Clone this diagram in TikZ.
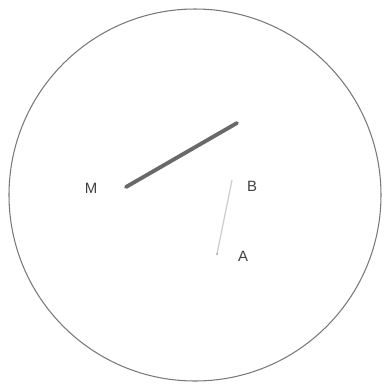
\documentclass[tikz,border=0pt]{standalone}
\usepackage{fontspec}
\setmainfont{Liberation Sans}
\usepackage{tikz}
\usetikzlibrary{positioning}
\definecolor{rimgray}{RGB}{120,120,120}
\definecolor{rodgray}{RGB}{105,105,105}
\definecolor{faintgray}{RGB}{205,205,205}

\begin{document}
\begin{tikzpicture}[
    x=0.02cm,y=-0.02cm,
    lbl/.style={font=\fontsize{8.5}{10}\selectfont,text=black!75,inner sep=1pt},
    rod/.style={rodgray,line width=2.2pt,line cap=round},
    thread/.style={faintgray,line width=0.7pt}
  ]
  \useasboundingbox (0,0) rectangle (390,387);

  % disc
  \coordinate (O) at (195,195);
  \draw[rimgray,line width=0.6pt] (O) circle[radius=186];

  % rod
  \coordinate (rodL) at (126,187);
  \coordinate (rodR) at (237,123);
  \draw[rod] (rodL) -- (rodR);

  % thread
  \coordinate (pB) at (232,180);
  \coordinate (pA) at (217,254);
  \draw[thread] (pB) -- (pA);
  \fill[gray!70] (pA) circle[radius=1];

  % labels
  \node[lbl] (M) at (91,188) {M};
  \node[lbl] (B) at (252,186) {B};
  \node[lbl] (A) at (243,256) {A};
\end{tikzpicture}
\end{document}
